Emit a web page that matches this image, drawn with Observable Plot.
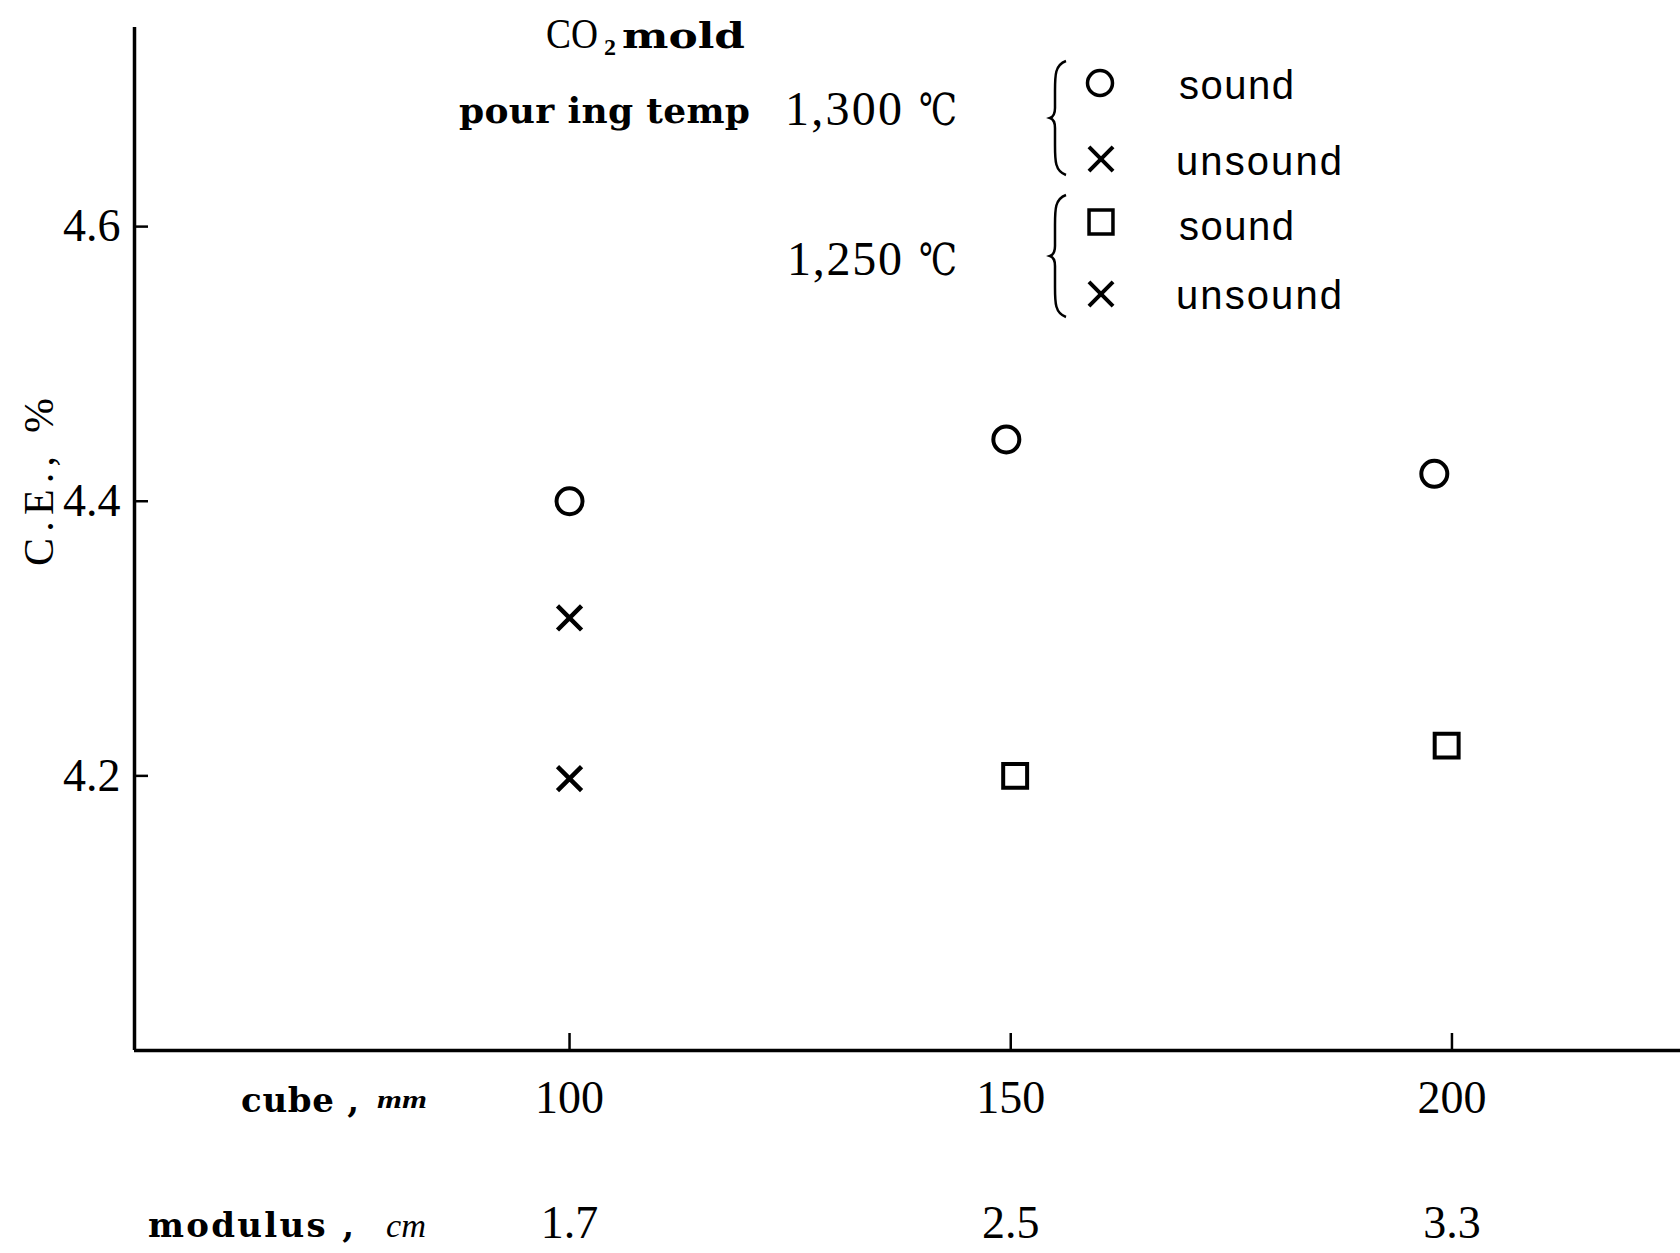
<!DOCTYPE html>
<html><head><meta charset="utf-8">
<script src="https://cdn.jsdelivr.net/npm/d3@7"></script>
<script src="https://cdn.jsdelivr.net/npm/@observablehq/plot@0.6"></script>
<style>
body{margin:0;background:#fff;}
#chart{position:relative;width:1680px;height:1253px;}
</style></head><body><div id="chart"></div>
<script>
// ---- data ----
const cubeTicks = [100, 150, 200];
const modulusLabels = ["1.7", "2.5", "3.3"];
const ceTicks = [4.2, 4.4, 4.6];
const sound1300Cube = [100, 149.5, 198];
const sound1300CE = [4.40, 4.445, 4.42];
const unsound1300Cube = [100];
const unsound1300CE = [4.315];
const sound1250Cube = [150.5, 199.4];
const sound1250CE = [4.20, 4.222];
const unsound1250Cube = [100];
const unsound1250CE = [4.198];
const xDomain = [50.7, 225.9];
const yDomain = [4.0, 4.745];

const pts = (xs, ys) => xs.map((x, i) => ({cube: x, ce: ys[i]}));

const serif = "'Liberation Serif', 'DejaVu Serif', serif";
const bold = "'DejaVu Serif', 'Liberation Serif', serif";
const sans = "'Liberation Sans', 'DejaVu Sans', sans-serif";

const chart = Plot.plot({
  width: 1680, height: 1253,
  marginLeft: 134, marginRight: 0, marginTop: 27, marginBottom: 203,
  x: {domain: xDomain},
  y: {domain: yDomain},
  style: {fontFamily: serif, background: "white", color: "black"},
  marks: [
    Plot.ruleX([xDomain[0]], {strokeWidth: 3.5}),
    Plot.ruleY([yDomain[0]], {strokeWidth: 3.5}),
    Plot.axisY({ticks: ceTicks, tickFormat: d => d.toFixed(1), tickSize: -14, tickPadding: 28,
      fontSize: 46, strokeWidth: 2.5, label: null}),
    Plot.axisX({ticks: cubeTicks, tickFormat: d => String(d), tickSize: -17, tickPadding: 47,
      fontSize: 46, strokeWidth: 2.5, label: null}),
    Plot.text(cubeTicks, {x: d => d, text: (d, i) => modulusLabels[i], frameAnchor: "bottom",
      dy: 155, lineAnchor: "top", fontSize: 46}),
    Plot.dot(pts(sound1300Cube, sound1300CE), {x: "cube", y: "ce", symbol: "circle", r: 13,
      fill: "none", stroke: "black", strokeWidth: 4}),
    Plot.dot(pts(unsound1300Cube, unsound1300CE), {x: "cube", y: "ce", symbol: "times", r: 11,
      stroke: "black", strokeWidth: 4.5}),
    Plot.dot(pts(sound1250Cube, sound1250CE), {x: "cube", y: "ce", symbol: "square", r: 13.5,
      fill: "none", stroke: "black", strokeWidth: 4}),
    Plot.dot(pts(unsound1250Cube, unsound1250CE), {x: "cube", y: "ce", symbol: "times", r: 11,
      stroke: "black", strokeWidth: 4.5})
  ]
});
document.getElementById("chart").appendChild(chart);

// ---- annotations / legend ----
const svg = d3.select(chart);
const g = svg.append("g").attr("fill", "black");
function txt(s, x, y, {font = serif, size = 40, weight = "normal", style = "normal", len = null, adj = "spacing", anchor = "start", transform = null} = {}) {
  const t = g.append("text").attr("x", x).attr("y", y)
    .attr("font-family", font).attr("font-size", size)
    .attr("font-weight", weight).attr("font-style", style)
    .attr("text-anchor", anchor).text(s);
  if (len) t.attr("textLength", len).attr("lengthAdjust", adj);
  if (transform) t.attr("transform", transform);
  return t;
}
// y-axis label
txt("C.E., %", 0, 0, {size: 42, len: 168, anchor: "middle", transform: "translate(53,482) rotate(-90)"});
// x-axis row labels
txt("cube ,", 241, 1112, {font: bold, size: 34, weight: "bold", len: 118});
txt("mm", 377, 1108, {font: serif, size: 26, style: "italic", weight: "bold", len: 50, adj: "spacingAndGlyphs"});
txt("modulus ,", 148, 1237, {font: bold, size: 34, weight: "bold", len: 206});
txt("cm", 386, 1237, {font: serif, size: 34, style: "italic", len: 40, adj: "spacingAndGlyphs"});
// heading
txt("CO", 546, 48, {size: 42, len: 52, adj: "spacingAndGlyphs"});
txt("2", 604, 55, {size: 24, weight: "bold"});
txt("mold", 622, 48, {font: bold, size: 36, weight: "bold", len: 123, adj: "spacingAndGlyphs"});
txt("pour ing temp", 459, 123, {font: bold, size: 36, weight: "bold", len: 291});
txt("1,300", 785, 125, {size: 48, len: 117});
txt("℃", 919, 125, {size: 44, len: 38, adj: "spacingAndGlyphs"});
txt("1,250", 787, 275, {size: 48, len: 115});
txt("℃", 919, 275, {size: 44, len: 38, adj: "spacingAndGlyphs"});
// legend entries
txt("sound", 1179, 99, {font: sans, size: 40, len: 115});
txt("unsound", 1176, 175, {font: sans, size: 40, len: 166});
txt("sound", 1179, 240, {font: sans, size: 40, len: 115});
txt("unsound", 1176, 309, {font: sans, size: 40, len: 166});
// legend symbols
const lg = g.append("g").attr("fill", "none").attr("stroke", "black").attr("stroke-width", 3.5);
lg.append("circle").attr("cx", 1100).attr("cy", 83).attr("r", 12.5);
lg.append("path").attr("d", d3.symbol(d3.symbolTimes, Math.PI * 121)()).attr("transform", "translate(1101,159)").attr("stroke-width", 4);
lg.append("path").attr("d", d3.symbol(d3.symbolSquare, Math.PI * 13.5 * 13.5)()).attr("transform", "translate(1101,222)");
lg.append("path").attr("d", d3.symbol(d3.symbolTimes, Math.PI * 121)()).attr("transform", "translate(1101,294)").attr("stroke-width", 4);
// braces
function brace(x, y0, y1) {
  const m = (y0 + y1) / 2;
  return `M${x + 16},${y0} C${x + 5},${y0 + 4} ${x + 5},${y0 + 14} ${x + 5},${y0 + 30} L${x + 5},${m - 10} C${x + 5},${m - 4} ${x + 3},${m - 1} ${x},${m} C${x + 3},${m + 1} ${x + 5},${m + 4} ${x + 5},${m + 10} L${x + 5},${y1 - 30} C${x + 5},${y1 - 14} ${x + 5},${y1 - 4} ${x + 16},${y1}`;
}
lg.append("path").attr("d", brace(1050, 61, 175)).attr("stroke-width", 2.5);
lg.append("path").attr("d", brace(1050, 195, 317)).attr("stroke-width", 2.5);
</script></body></html>
